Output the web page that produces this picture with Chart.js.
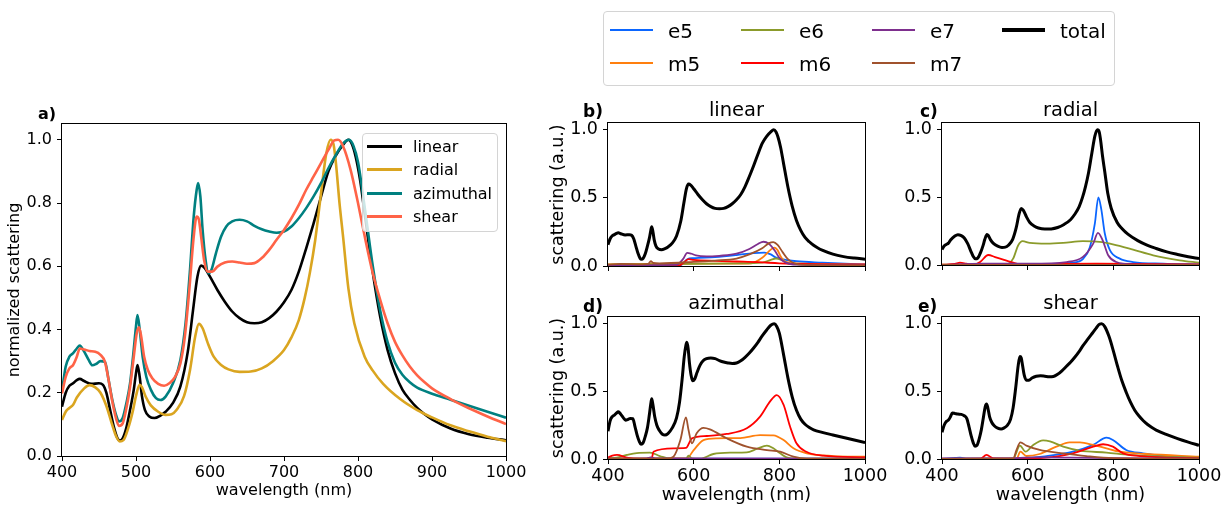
<!DOCTYPE html>
<html>
<head>
<meta charset="utf-8">
<script src="https://cdn.jsdelivr.net/npm/chart.js@4.4.1/dist/chart.umd.min.js"></script>
<style>
  html, body { margin: 0; padding: 0; background: #fff; }
  body { position: relative; width: 1229px; height: 506px; overflow: hidden; font-family: "DejaVu Sans", sans-serif; color: #000; }
  canvas { position: absolute; left: 0; top: 0; }
  .t { position: absolute; white-space: nowrap; line-height: 1; }
  .b { font-weight: bold; }
  .c { transform: translateX(-50%); }
  .box { position: absolute; box-sizing: border-box; border: 1px solid #d4d4d4; border-radius: 4px; background: rgba(255,255,255,0.8); }
  .h { position: absolute; }
</style>
</head>
<body>
<canvas id="pa" width="1229" height="506"></canvas>
<canvas id="pb" width="1229" height="506"></canvas>
<canvas id="pc" width="1229" height="506"></canvas>
<canvas id="pd" width="1229" height="506"></canvas>
<canvas id="pe" width="1229" height="506"></canvas>
<div id="overlay"></div>
<script>
// ---- wavelength (nm), normalized scattering: full spectra per excitation ----
const linear = [[400,0.156],[405,0.2],[410,0.222],[415,0.23],[420,0.24],[424,0.244],[430,0.237],[440,0.228],[450,0.23],[455,0.226],[460,0.2],[465,0.146],[470,0.093],[475,0.056],[478,0.049],[482,0.056],[487,0.09],[492,0.146],[497,0.21],[500,0.262],[502,0.288],[505,0.25],[508,0.19],[512,0.146],[518,0.125],[525,0.12],[533,0.128],[540,0.14],[550,0.168],[560,0.22],[570,0.33],[577,0.46],[583,0.567],[588,0.602],[593,0.594],[600,0.567],[610,0.525],[620,0.488],[630,0.457],[640,0.436],[650,0.423],[660,0.42],[670,0.423],[680,0.436],[690,0.457],[700,0.486],[710,0.525],[720,0.583],[730,0.657],[740,0.736],[750,0.82],[760,0.9],[770,0.95],[780,0.985],[787,1.0],[792,0.985],[797,0.945],[803,0.87],[810,0.75],[820,0.58],[830,0.44],[840,0.335],[850,0.262],[860,0.21],[870,0.178],[880,0.152],[890,0.132],[900,0.116],[925,0.087],[950,0.069],[975,0.058],[1000,0.05]];
const radial = [[400,0.114],[405,0.14],[410,0.152],[415,0.162],[420,0.185],[430,0.214],[437,0.224],[445,0.217],[452,0.2],[460,0.158],[467,0.105],[473,0.063],[478,0.046],[483,0.05],[490,0.092],[496,0.145],[500,0.19],[505,0.225],[508,0.218],[513,0.188],[520,0.16],[530,0.14],[540,0.13],[548,0.132],[555,0.146],[565,0.19],[573,0.272],[580,0.378],[585,0.418],[590,0.404],[597,0.357],[605,0.314],[615,0.288],[625,0.274],[640,0.266],[655,0.267],[670,0.277],[685,0.3],[700,0.335],[710,0.375],[720,0.43],[728,0.5],[735,0.58],[742,0.68],[750,0.83],[757,0.955],[763,1.0],[767,0.985],[770,0.93],[775,0.8],[780,0.69],[787,0.53],[795,0.42],[809,0.314],[820,0.27],[834,0.228],[857,0.18],[880,0.145],[900,0.122],[925,0.097],[950,0.078],[975,0.061],[1000,0.047]];
const azimuthal = [[400,0.205],[405,0.283],[410,0.314],[415,0.325],[420,0.34],[424,0.349],[430,0.33],[436,0.304],[441,0.287],[446,0.291],[452,0.3],[458,0.298],[463,0.24],[468,0.177],[473,0.13],[477,0.109],[482,0.12],[487,0.167],[492,0.23],[496,0.314],[500,0.41],[502,0.446],[505,0.4],[509,0.314],[514,0.25],[520,0.21],[527,0.183],[533,0.177],[540,0.188],[550,0.23],[560,0.304],[567,0.42],[573,0.589],[578,0.757],[582,0.842],[584,0.863],[587,0.82],[590,0.715],[594,0.62],[598,0.578],[602,0.589],[608,0.641],[615,0.694],[622,0.726],[630,0.742],[640,0.747],[650,0.742],[660,0.728],[670,0.717],[680,0.71],[690,0.706],[700,0.71],[710,0.726],[720,0.752],[730,0.784],[740,0.821],[750,0.863],[760,0.91],[770,0.952],[780,0.989],[788,1.0],[794,0.98],[800,0.93],[810,0.77],[820,0.6],[830,0.46],[840,0.36],[850,0.295],[860,0.257],[870,0.233],[880,0.216],[900,0.197],[925,0.178],[950,0.159],[975,0.14],[1000,0.121]];
const shear = [[400,0.198],[405,0.25],[410,0.277],[415,0.288],[420,0.314],[424,0.34],[430,0.337],[437,0.332],[445,0.33],[452,0.32],[458,0.298],[463,0.24],[468,0.172],[473,0.119],[477,0.095],[482,0.103],[487,0.151],[492,0.219],[497,0.314],[501,0.388],[504,0.407],[507,0.378],[511,0.314],[516,0.272],[522,0.246],[530,0.228],[538,0.222],[545,0.23],[553,0.251],[560,0.293],[566,0.378],[572,0.525],[578,0.694],[582,0.757],[585,0.747],[588,0.694],[592,0.62],[597,0.583],[603,0.583],[610,0.599],[620,0.612],[630,0.615],[640,0.612],[650,0.608],[660,0.61],[670,0.626],[680,0.652],[690,0.684],[700,0.715],[710,0.752],[720,0.794],[730,0.842],[740,0.884],[750,0.926],[760,0.968],[768,0.998],[773,1.0],[780,0.979],[790,0.905],[800,0.8],[810,0.684],[820,0.578],[830,0.494],[840,0.42],[850,0.361],[860,0.318],[870,0.283],[880,0.255],[890,0.233],[900,0.214],[925,0.18],[950,0.151],[975,0.125],[1000,0.101]];

// ---- multipole contributions (e = electric, m = magnetic; order 5..7) ----
// linear
const linE5 = [[400,0.002],[560,0.002],[572,0.01],[585,0.05],[600,0.058],[650,0.065],[700,0.08],[740,0.095],[765,0.098],[780,0.085],[790,0.065],[800,0.055],[840,0.035],[900,0.025],[1000,0.012]];
const linM5 = [[400,0.012],[500,0.015],[600,0.017],[700,0.017],[735,0.02],[760,0.06],[780,0.12],[788,0.135],[795,0.12],[805,0.06],[815,0.03],[840,0.02],[1000,0.01]];
const linE6 = [[400,0.01],[600,0.015],[700,0.02],[760,0.025],[780,0.045],[792,0.055],[805,0.045],[820,0.02],[860,0.012],[1000,0.008]];
const linM6 = [[400,0.002],[565,0.002],[575,0.02],[588,0.05],[600,0.045],[650,0.038],[700,0.033],[750,0.028],[800,0.02],[850,0.015],[1000,0.012]];
const linE7 = [[400,0.005],[560,0.008],[575,0.05],[585,0.097],[595,0.09],[605,0.078],[630,0.07],[660,0.075],[700,0.09],[730,0.125],[750,0.162],[763,0.178],[775,0.165],[790,0.11],[800,0.06],[815,0.025],[840,0.01],[1000,0.004]];
const linM7 = [[400,0.01],[430,0.015],[480,0.012],[494,0.015],[500,0.035],[506,0.022],[520,0.02],[600,0.03],[650,0.04],[700,0.055],[730,0.085],[760,0.13],[776,0.168],[786,0.176],[796,0.155],[808,0.1],[820,0.05],[835,0.02],[860,0.008],[1000,0.004]];
// radial
const radE5 = [[400,0.001],[650,0.005],[700,0.015],[730,0.048],[745,0.13],[757,0.31],[765,0.5],[772,0.41],[780,0.235],[792,0.11],[815,0.047],[846,0.022],[916,0.01],[1000,0.005]];
const radM5 = [[400,0.001],[1000,0.001]];
const radE6 = [[400,0.002],[550,0.005],[566,0.047],[578,0.146],[588,0.176],[605,0.163],[644,0.158],[683,0.163],[729,0.176],[768,0.171],[799,0.153],[846,0.114],[893,0.072],[955,0.035],[1000,0.017]];
const radM6 = [[400,0.002],[430,0.008],[442,0.017],[457,0.01],[473,0.002],[489,0.022],[508,0.074],[524,0.059],[543,0.04],[562,0.022],[582,0.007],[760,0.01],[1000,0.005]];
const radE7 = [[400,0.001],[496,0.01],[605,0.01],[691,0.022],[729,0.06],[753,0.158],[764,0.238],[775,0.183],[788,0.072],[807,0.022],[846,0.005],[1000,0.002]];
const radM7 = [[400,0.001],[1000,0.001]];
// azimuthal
const aziE5 = [[400,0.002],[1000,0.002]];
const aziM5 = [[400,0.005],[584,0.005],[600,0.066],[623,0.14],[654,0.153],[709,0.155],[755,0.177],[786,0.175],[810,0.14],[833,0.079],[864,0.042],[926,0.022],[1000,0.017]];
const aziE6 = [[400,0.005],[420,0.01],[444,0.03],[467,0.044],[498,0.047],[521,0.022],[545,0.002],[582,0.002],[588,0.025],[596,0.004],[615,0.002],[646,0.037],[685,0.047],[724,0.049],[747,0.074],[771,0.099],[786,0.079],[802,0.042],[817,0.012],[840,0.002],[1000,0.002]];
const aziM6 = [[400,0.01],[410,0.025],[421,0.03],[444,0.01],[475,0.001],[502,0.002],[506,0.054],[553,0.079],[582,0.082],[596,0.153],[631,0.17],[677,0.185],[724,0.227],[755,0.313],[778,0.424],[794,0.473],[810,0.4],[825,0.24],[840,0.116],[863,0.054],[903,0.025],[1000,0.012]];
const aziE7 = [[400,0.003],[490,0.005],[500,0.012],[510,0.004],[1000,0.003]];
const aziM7 = [[400,0.002],[538,0.002],[553,0.017],[569,0.14],[582,0.308],[588,0.214],[596,0.116],[607,0.19],[623,0.23],[638,0.219],[677,0.153],[724,0.091],[771,0.066],[802,0.054],[833,0.017],[864,0.002],[1000,0.001]];
// shear
const shrE5 = [[400,0.002],[430,0.008],[442,0.01],[460,0.004],[582,0.003],[644,0.022],[706,0.054],[753,0.104],[784,0.158],[799,0.141],[830,0.067],[869,0.042],[916,0.025],[1000,0.01]];
const shrM5 = [[400,0.001],[574,0.002],[583,0.054],[597,0.022],[628,0.037],[667,0.091],[698,0.123],[722,0.123],[753,0.104],[784,0.079],[815,0.054],[877,0.037],[1000,0.017]];
const shrE6 = [[400,0.001],[566,0.002],[582,0.099],[595,0.054],[613,0.104],[636,0.138],[652,0.131],[683,0.091],[722,0.062],[784,0.047],[838,0.03],[916,0.017],[1000,0.01]];
const shrM6 = [[400,0.002],[489,0.002],[504,0.03],[520,0.005],[582,0.003],[644,0.01],[706,0.042],[753,0.091],[776,0.109],[799,0.091],[823,0.042],[862,0.022],[1000,0.005]];
const shrE7 = [[400,0.003],[550,0.005],[620,0.012],[700,0.01],[800,0.006],[1000,0.003]];
const shrM7 = [[400,0.001],[566,0.002],[574,0.067],[583,0.123],[597,0.099],[628,0.067],[683,0.042],[737,0.022],[799,0.007],[1000,0.002]];

// ---- labels ----
const excitations = ['linear', 'radial', 'azimuthal', 'shear'];
const modes = ['e5', 'm5', 'e6', 'm6', 'e7', 'm7', 'total'];
const panelTags = ['a)', 'b)', 'c)', 'd)', 'e)'];
const xTitle = 'wavelength (nm)';

const FONT = 'DejaVu Sans';
Chart.defaults.font.family = FONT;
Chart.defaults.color = '#000';

const excColors = { linear: '#000000', radial: '#daa520', azimuthal: '#008080', shear: '#ff6347' };
const modeColors = { e5: '#0b66ff', m5: '#ff7f0e', e6: '#8b9b2b', m6: '#ff0000', e7: '#7e2f8e', m7: '#a0522d', total: '#000000' };

// spines on all four sides
const frame = {
  id: 'frame',
  afterDatasetsDraw(chart) {
    const a = chart.chartArea, ctx = chart.ctx;
    ctx.save();
    ctx.strokeStyle = '#000';
    ctx.lineWidth = 1;
    ctx.strokeRect(Math.round(a.left) - 0.5, Math.round(a.top) - 0.5, Math.round(a.right - a.left) + 1, Math.round(a.bottom - a.top) + 1);
    ctx.restore();
  }
};

const pts = arr => arr.map(([x, y]) => ({ x, y }));
function line(label, data, color, width, order) {
  return { label, data: pts(data), borderColor: color, backgroundColor: color, borderWidth: width,
           pointRadius: 0, fill: false, cubicInterpolationMode: 'monotone', order };
}

function panel(id, p, datasets) {
  const W = 1229, H = 506;
  new Chart(document.getElementById(id), {
    type: 'line',
    data: { datasets },
    plugins: [frame],
    options: {
      responsive: false, animation: false, events: [],
      layout: { padding: { left: p.L - p.yW, top: p.T, right: W - p.R, bottom: H - p.B - p.xH } },
      plugins: { legend: { display: false }, tooltip: { enabled: false } },
      scales: {
        x: {
          type: 'linear', min: 400, max: 1000,
          ticks: { stepSize: p.xStep, display: p.xLabels, autoSkip: false, maxRotation: 0, includeBounds: false,
                   padding: 2, font: { size: p.fs }, color: '#000', callback: v => String(v) },
          grid: { display: true, drawOnChartArea: false, drawTicks: true, tickLength: 5, color: '#000', lineWidth: 1 },
          border: { display: false },
          title: { display: !!p.xt, text: xTitle, font: { size: p.fs }, color: '#000', padding: { top: 0, bottom: p.xtPad || 0 } },
          afterFit(s) { s.height = p.xH; }
        },
        y: {
          type: 'linear', min: 0, max: 1.05,
          ticks: { stepSize: p.yStep, includeBounds: false, padding: 5, font: { size: p.fs }, color: '#000',
                   callback: v => Number(v).toFixed(1) },
          grid: { display: true, drawOnChartArea: false, drawTicks: true, tickLength: 5, color: '#000', lineWidth: 1 },
          border: { display: false },
          title: { display: !!p.yt, text: p.yt || '', font: { size: p.fs }, color: '#000', padding: { top: p.ytPad || 0, bottom: 0 } },
          afterFit(s) { s.width = p.yW; }
        }
      }
    }
  });
}

// panel a: all four normalized spectra
panel('pa', { L: 62, T: 124, R: 506, B: 456, yW: 62, xH: 50, fs: 16, xStep: 100, yStep: 0.2, xLabels: true,
              xt: true, xtPad: 5.4, yt: 'normalized scattering', ytPad: 5.4 },
  [line('linear', linear, excColors.linear, 2.6, 4),
   line('radial', radial, excColors.radial, 2.6, 3),
   line('azimuthal', azimuthal, excColors.azimuthal, 2.6, 2),
   line('shear', shear, excColors.shear, 2.6, 1)]);

// panels b-e: multipole decomposition
function decomposition(total, parts) {
  const out = parts.map((d, i) => line(modes[i], d, modeColors[modes[i]], 1.8, 10 - i));
  out.push(line('total', total, modeColors.total, 3, 0));
  return out;
}
const small = { fs: 17.5, xStep: 200, yStep: 0.5 };
panel('pb', Object.assign({ L: 608, T: 123, R: 865, B: 266, yW: 70, xH: 10, xLabels: false, yt: 'scattering (a.u.)', ytPad: 9.5 }, small),
  decomposition(linear, [linE5, linM5, linE6, linM6, linE7, linM7]));
panel('pc', Object.assign({ L: 942, T: 123, R: 1199, B: 265, yW: 60, xH: 10, xLabels: false }, small),
  decomposition(radial, [radE5, radM5, radE6, radM6, radE7, radM7]));
panel('pd', Object.assign({ L: 608, T: 317, R: 865, B: 459, yW: 70, xH: 47, xLabels: true, xt: true, yt: 'scattering (a.u.)', ytPad: 9.5 }, small),
  decomposition(azimuthal, [aziE5, aziM5, aziE6, aziM6, aziE7, aziM7]));
panel('pe', Object.assign({ L: 942, T: 317, R: 1199, B: 459, yW: 60, xH: 47, xLabels: true, xt: true }, small),
  decomposition(shear, [shrE5, shrM5, shrE6, shrM6, shrE7, shrM7]));

// ---- text: panel tags, titles, legends ----
const ov = document.getElementById('overlay');
function text(str, x, baseline, size, cls) {
  const d = document.createElement('div');
  d.className = 't ' + (cls || '');
  d.style.fontSize = size + 'px';
  d.style.left = x + 'px';
  d.style.top = (baseline - 0.846 * size) + 'px';
  d.textContent = str;
  ov.appendChild(d);
  return d;
}
function handle(x, y, w, h, color) {
  const d = document.createElement('div');
  d.className = 'h';
  d.style.left = x + 'px'; d.style.top = (y - h / 2) + 'px';
  d.style.width = w + 'px'; d.style.height = h + 'px';
  d.style.background = color;
  ov.appendChild(d);
}
function box(x0, y0, x1, y1) {
  const d = document.createElement('div');
  d.className = 'box';
  d.style.left = x0 + 'px'; d.style.top = y0 + 'px';
  d.style.width = (x1 - x0) + 'px'; d.style.height = (y1 - y0) + 'px';
  ov.appendChild(d);
}

text(panelTags[0], 38, 119.5, 16, 'b');
text(panelTags[1], 583, 117.5, 17, 'b');
text(panelTags[2], 920, 117.5, 17, 'b');
text(panelTags[3], 583, 312.5, 17, 'b');
text(panelTags[4], 918, 312.5, 17, 'b');

text(excitations[0], 736.5, 116, 19.5, 'c');
text(excitations[1], 1070.5, 116, 19.5, 'c');
text(excitations[2], 736.5, 309.5, 19.5, 'c');
text(excitations[3], 1070.5, 309.5, 19.5, 'c');

// legend of panel a
box(362, 133, 498, 232);
excitations.forEach((name, i) => {
  const yc = 146 + i * 23.6;
  handle(367, yc, 35, 3, excColors[name]);
  text(name, 413, yc + 6.2, 16);
});

// shared legend for the decomposition panels (4 columns, filled column-wise)
box(603, 11, 1115, 86);
const colX = [610, 741, 872, 1002];
modes.forEach((name, i) => {
  const col = Math.floor(i / 2), row = i % 2;
  const yc = row === 0 ? 30 : 63.3;
  handle(colX[col], yc, 43, name === 'total' ? 3.2 : 2.2, modeColors[name]);
  text(name, colX[col] + 58, yc + 8, 20);
});
</script>
</body>
</html>
